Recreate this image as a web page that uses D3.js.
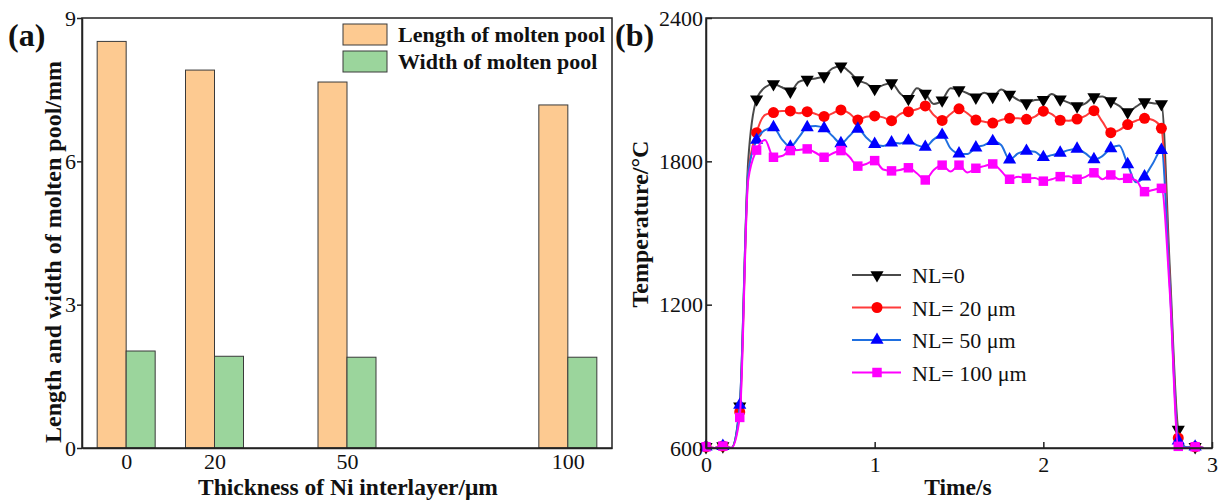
<!DOCTYPE html>
<html>
<head>
<meta charset="utf-8">
<script src="https://cdn.jsdelivr.net/npm/d3@7"></script>
<style>
  body { margin: 0; background: #fff; }
  svg { display: block; }
  svg text { font-family: "Liberation Serif", "Times New Roman", serif !important; }
</style>
</head>
<body>
<svg id="chart" width="1222" height="500"></svg>
<script>
// ---- panel (a) data ----
const thickness = [0, 20, 50, 100];
const poolLength = [8.51, 7.91, 7.66, 7.18];
const poolWidth = [2.03, 1.92, 1.90, 1.90];
const barTicksA = [0, 3, 6, 9];

// ---- panel (b) data ----
const times = [0, 0.05, 0.1, 0.15, 0.2, 0.25, 0.3, 0.35, 0.4, 0.45,
  0.5, 0.55, 0.6, 0.65, 0.7, 0.75, 0.8, 0.85, 0.9, 0.95,
  1.0, 1.05, 1.1, 1.15, 1.2, 1.25, 1.3, 1.35, 1.4, 1.45,
  1.5, 1.55, 1.6, 1.65, 1.7, 1.75, 1.8, 1.85, 1.9, 1.95,
  2.0, 2.05, 2.1, 2.15, 2.2, 2.25, 2.3, 2.35, 2.4, 2.45,
  2.5, 2.55, 2.6, 2.65, 2.7, 2.75, 2.8, 2.85, 2.9, 2.95];

const tempNL0 = [605, 600, 608, 600, 775, 1800, 2060, 2110, 2124, 2110,
  2093, 2133, 2142, 2147, 2157, 2189, 2198, 2175, 2140, 2126,
  2104, 2119, 2128, 2085, 2062, 2106, 2084, 2040, 2056, 2106,
  2098, 2085, 2068, 2087, 2071, 2101, 2080, 2057, 2044, 2057,
  2058, 2082, 2060, 2046, 2031, 2043, 2069, 2071, 2052, 2032,
  2006, 2029, 2048, 2043, 2040, 1350, 677, 600, 605, 600];

const tempNL20 = [605, 600, 608, 600, 751, 1750, 1920, 1994, 2004, 2011,
  2011, 2001, 2008, 1998, 1988, 2001, 2015, 2001, 1973, 1987,
  1990, 1984, 1970, 1998, 2008, 2018, 2032, 1994, 1971, 1998,
  2020, 2001, 1973, 1966, 1960, 1973, 1980, 1980, 1976, 1987,
  2010, 1998, 1972, 1970, 1977, 1990, 2012, 1966, 1920, 1931,
  1954, 1970, 1980, 1973, 1938, 1300, 642, 603, 605, 600];

const tempNL50 = [605, 600, 608, 600, 780, 1750, 1889, 1931, 1942, 1892,
  1861, 1900, 1942, 1948, 1938, 1906, 1875, 1906, 1936, 1900,
  1872, 1864, 1878, 1875, 1886, 1868, 1860, 1892, 1910, 1854,
  1832, 1831, 1857, 1868, 1884, 1868, 1807, 1833, 1843, 1840,
  1817, 1826, 1835, 1847, 1852, 1833, 1808, 1822, 1854, 1866,
  1787, 1712, 1736, 1792, 1847, 1280, 631, 603, 605, 600];

const tempNL100 = [605, 600, 608, 600, 728, 1720, 1847, 1889, 1817, 1822,
  1845, 1847, 1852, 1836, 1817, 1833, 1845, 1819, 1780, 1789,
  1803, 1766, 1760, 1764, 1773, 1750, 1722, 1764, 1784, 1757,
  1784, 1753, 1771, 1780, 1789, 1760, 1725, 1735, 1729, 1730,
  1717, 1725, 1736, 1738, 1725, 1735, 1752, 1725, 1743, 1725,
  1729, 1720, 1673, 1680, 1687, 1250, 607, 600, 605, 600];

const seriesNames = ["NL=0", "NL= 20 \u03bcm", "NL= 50 \u03bcm", "NL= 100 \u03bcm"];
const tempTicks = [600, 1200, 1800, 2400];
const timeTicks = [0, 1, 2, 3];

const FONT = "Liberation Serif, Times New Roman, serif";
const svg = d3.select("#chart");

function styleAxis(ax) {
  ax.attr("font-family", FONT);
  ax.select(".domain").attr("stroke", "#222").attr("stroke-width", 1.5);
  ax.selectAll(".tick line").attr("stroke", "#222").attr("stroke-width", 1.5);
  ax.selectAll("text").attr("font-family", FONT).attr("font-size", 22).attr("fill", "#111");
}

// ================= panel (a) =================
const xA = d3.scaleLinear().domain([-10, 110]).range([82, 612]);
const yA = d3.scaleLinear().domain([0, 9]).range([448, 18]);
const barW = 29;

const gA = svg.append("g");

gA.selectAll(".len").data(thickness).enter().append("rect")
  .attr("x", (d) => xA(d) - barW)
  .attr("y", (d, i) => yA(poolLength[i]))
  .attr("width", barW)
  .attr("height", (d, i) => yA(0) - yA(poolLength[i]))
  .attr("fill", "#fdca91").attr("stroke", "#3a3a3a").attr("stroke-width", 1);

gA.selectAll(".wid").data(thickness).enter().append("rect")
  .attr("x", (d) => xA(d))
  .attr("y", (d, i) => yA(poolWidth[i]))
  .attr("width", barW)
  .attr("height", (d, i) => yA(0) - yA(poolWidth[i]))
  .attr("fill", "#9bd59c").attr("stroke", "#3a3a3a").attr("stroke-width", 1);

// frame
gA.append("rect").attr("x", 82).attr("y", 18).attr("width", 530).attr("height", 430)
  .attr("fill", "none").attr("stroke", "#222").attr("stroke-width", 1.5);

styleAxis(gA.append("g").attr("transform", "translate(82,0)")
  .call(d3.axisLeft(yA).tickValues(barTicksA).tickFormat(d3.format("d"))
    .tickSize(5).tickSizeOuter(0).tickPadding(1)));
styleAxis(gA.append("g").attr("transform", "translate(0,448)")
  .call(d3.axisBottom(xA).tickValues(thickness).tickFormat(d3.format("d"))
    .tickSize(0).tickSizeOuter(0).tickPadding(5)));

// legend (a)
const legA = [["Length of molten pool", "#fdca91"], ["Width of molten pool", "#9bd59c"]];
legA.forEach((l, i) => {
  gA.append("rect").attr("x", 343).attr("y", 24 + i * 27).attr("width", 44).attr("height", 21)
    .attr("fill", l[1]).attr("stroke", "#3a3a3a").attr("stroke-width", 1);
  gA.append("text").attr("x", 398).attr("y", 42 + i * 27).attr("font-family", FONT)
    .attr("font-size", 22).attr("font-weight", "bold").attr("fill", "#111").text(l[0]);
});

gA.append("text").attr("x", 348).attr("y", 494.5).attr("text-anchor", "middle").attr("font-family", FONT)
  .attr("font-size", 23.5).attr("font-weight", "bold").attr("fill", "#111")
  .text("Thickness of Ni interlayer/\u03bcm");
gA.append("text").attr("transform", "translate(61,252) rotate(-90)").attr("text-anchor", "middle")
  .attr("font-family", FONT).attr("font-size", 24).attr("font-weight", "bold").attr("fill", "#111")
  .text("Length and width of molten pool/mm");
gA.append("text").attr("x", 8).attr("y", 46).attr("font-family", FONT).attr("font-size", 32)
  .attr("font-weight", "bold").attr("fill", "#111").text("(a)");

// ================= panel (b) =================
const xB = d3.scaleLinear().domain([0, 3]).range([706, 1212]);
const yB = d3.scaleLinear().domain([600, 2400]).range([448, 18]);

const gB = svg.append("g");

const series = [
  { name: seriesNames[0], values: tempNL0, line: "#4a4a4a", mark: "#000000", sym: d3.symbolTriangle, rot: 180, size: 75 },
  { name: seriesNames[1], values: tempNL20, line: "#ff3b3b", mark: "#ff0000", sym: d3.symbolCircle, rot: 0, size: 95 },
  { name: seriesNames[2], values: tempNL50, line: "#1f6fe0", mark: "#0000ff", sym: d3.symbolTriangle, rot: 0, size: 75 },
  { name: seriesNames[3], values: tempNL100, line: "#ff00ff", mark: "#ff00ff", sym: d3.symbolSquare, rot: 0, size: 90 }
];

const line = d3.line().x((d) => xB(d[0])).y((d) => yB(d[1])).curve(d3.curveMonotoneX);

series.forEach((s) => {
  const pts = times.map((t, i) => [t, s.values[i]]);
  gB.append("path").datum(pts).attr("d", line)
    .attr("fill", "none").attr("stroke", s.line).attr("stroke-width", 2);
  const marks = pts.filter((p, i) => i % 2 === 0);
  gB.selectAll(null).data(marks).enter().append("path")
    .attr("d", d3.symbol().type(s.sym).size(s.size))
    .attr("transform", (d) => `translate(${xB(d[0])},${yB(d[1])}) rotate(${s.rot})`)
    .attr("fill", s.mark);
});

gB.append("rect").attr("x", 706).attr("y", 18).attr("width", 506).attr("height", 430)
  .attr("fill", "none").attr("stroke", "#222").attr("stroke-width", 1.5);

styleAxis(gB.append("g").attr("transform", "translate(706,0)")
  .call(d3.axisLeft(yB).tickValues(tempTicks).tickFormat(d3.format("d"))
    .tickSize(-6).tickSizeOuter(0).tickPadding(3)));
styleAxis(gB.append("g").attr("transform", "translate(0,448)")
  .call(d3.axisBottom(xB).tickValues(timeTicks).tickFormat(d3.format("d"))
    .tickSize(-6).tickSizeOuter(0).tickPadding(8)));

// legend (b)
series.forEach((s, i) => {
  const y = 275 + i * 32.5;
  gB.append("line").attr("x1", 852).attr("x2", 901).attr("y1", y).attr("y2", y)
    .attr("stroke", s.line).attr("stroke-width", 2);
  gB.append("path").attr("d", d3.symbol().type(s.sym).size(s.size))
    .attr("transform", `translate(877,${y}) rotate(${s.rot})`).attr("fill", s.mark);
  gB.append("text").attr("x", 912).attr("y", y + 8).attr("font-family", FONT).attr("font-size", 22)
    .attr("fill", "#111").text(s.name);
});

gB.append("text").attr("x", 958).attr("y", 494.5).attr("text-anchor", "middle").attr("font-family", FONT)
  .attr("font-size", 23.5).attr("font-weight", "bold").attr("fill", "#111").text("Time/s");
gB.append("text").attr("transform", "translate(648,224) rotate(-90)").attr("text-anchor", "middle")
  .attr("font-family", FONT).attr("font-size", 24).attr("font-weight", "bold").attr("fill", "#111")
  .text("Temperature/\u00b0C");
gB.append("text").attr("x", 615).attr("y", 46).attr("font-family", FONT).attr("font-size", 32)
  .attr("font-weight", "bold").attr("fill", "#111").text("(b)");
</script>
</body>
</html>
